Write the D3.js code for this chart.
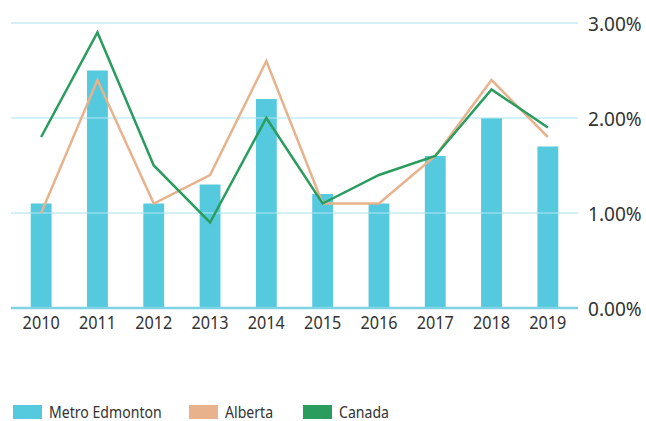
<!DOCTYPE html>
<html>
<head>
<meta charset="utf-8">
<script src="https://cdn.jsdelivr.net/npm/d3@7"></script>
<style>
  body { margin: 0; background: #fff; }
  svg { display: block; font-family: "Noto Sans", sans-serif; }
</style>
</head>
<body>
<script>
const years = ["2010", "2011", "2012", "2013", "2014", "2015", "2016", "2017", "2018", "2019"];
const edmonton = [1.1, 2.5, 1.1, 1.3, 2.2, 1.2, 1.1, 1.6, 2.0, 1.7];
const alberta = [1.0, 2.4, 1.1, 1.4, 2.6, 1.1, 1.1, 1.6, 2.4, 1.8];
const canada = [1.8, 2.9, 1.5, 0.9, 2.0, 1.1, 1.4, 1.6, 2.3, 1.9];
const yTicks = [0, 1, 2, 3];
const seriesNames = ["Metro Edmonton", "Alberta", "Canada"];

const width = 646;
const height = 421;

const svg = d3.select("body")
    .append("svg")
    .attr("width", width)
    .attr("height", height);

const colors = { "Metro Edmonton": "#55cadf", "Alberta": "#e8b28c", "Canada": "#2a9d5e" };

// comprimir texto (la fuente original es mas estrecha)
function squeeze(sel, k) {
    sel.each(function() {
        const w = this.getComputedTextLength();
        d3.select(this)
            .attr("textLength", w * k)
            .attr("lengthAdjust", "spacingAndGlyphs");
    });
}

const x = d3.scaleBand()
    .domain(years)
    .range([13, 576])
    .paddingInner(0.63)
    .paddingOuter(0.315);

const y = d3.scaleLinear()
    .domain([0, 3])
    .range([308, 23]);

// barras
svg.append("g")
    .selectAll("rect")
    .data(years)
    .enter()
    .append("rect")
    .attr("x", d => x(d))
    .attr("y", (d, i) => y(edmonton[i]))
    .attr("width", x.bandwidth())
    .attr("height", (d, i) => y(0) - y(edmonton[i]))
    .attr("fill", colors["Metro Edmonton"]);

// lineas de cuadricula
svg.append("g")
    .selectAll("line")
    .data(yTicks.filter(t => t > 0))
    .enter()
    .append("line")
    .attr("x1", 11)
    .attr("x2", 578)
    .attr("y1", d => y(d))
    .attr("y2", d => y(d))
    .attr("stroke", "#aee3ee")
    .attr("stroke-opacity", 0.55)
    .attr("stroke-width", 2);

// linea base
svg.append("line")
    .attr("x1", 11)
    .attr("x2", 578)
    .attr("y1", y(0))
    .attr("y2", y(0))
    .attr("stroke", "#7fd3e2")
    .attr("stroke-width", 2.5);

// eje derecho
const yAxis = svg.append("g")
    .attr("transform", "translate(588,0)")
    .call(d3.axisRight(y).tickValues(yTicks).tickSize(0).tickFormat(d => d3.format(".2f")(d) + "%"));
yAxis.select(".domain").remove();
yAxis.selectAll("text")
    .attr("x", 0)
    .attr("dy", "0.36em")
    .attr("font-size", "20.5px")
    .attr("fill", "#333")
    .attr("font-family", "Noto Sans")
    .call(squeeze, 0.93);

// eje x
const xAxis = svg.append("g")
    .attr("transform", "translate(0,311)")
    .call(d3.axisBottom(x).tickSize(0));
xAxis.select(".domain").remove();
xAxis.selectAll("text")
    .attr("y", 5)
    .attr("font-size", "18px")
    .attr("fill", "#333")
    .attr("font-family", "Noto Sans")
    .call(squeeze, 0.9);

// lineas
const line = d3.line()
    .x((d, i) => x(years[i]) + x.bandwidth() / 2)
    .y(d => y(d));

svg.append("path")
    .datum(alberta)
    .attr("d", line)
    .attr("fill", "none")
    .attr("stroke", colors["Alberta"])
    .attr("stroke-width", 2.5);

svg.append("path")
    .datum(canada)
    .attr("d", line)
    .attr("fill", "none")
    .attr("stroke", colors["Canada"])
    .attr("stroke-width", 2.5);

// leyenda
const legendX = [13, 189, 303];
const legend = svg.append("g")
    .selectAll("g")
    .data(seriesNames)
    .enter()
    .append("g")
    .attr("transform", (d, i) => `translate(${legendX[i]},405)`);

legend.append("rect")
    .attr("width", 29)
    .attr("height", 14)
    .attr("fill", d => colors[d]);

legend.append("text")
    .attr("x", 36)
    .attr("y", 12.5)
    .attr("font-size", "16px")
    .attr("fill", "#333")
    .text(d => d)
    .call(squeeze, 0.88);
</script>
</body>
</html>
